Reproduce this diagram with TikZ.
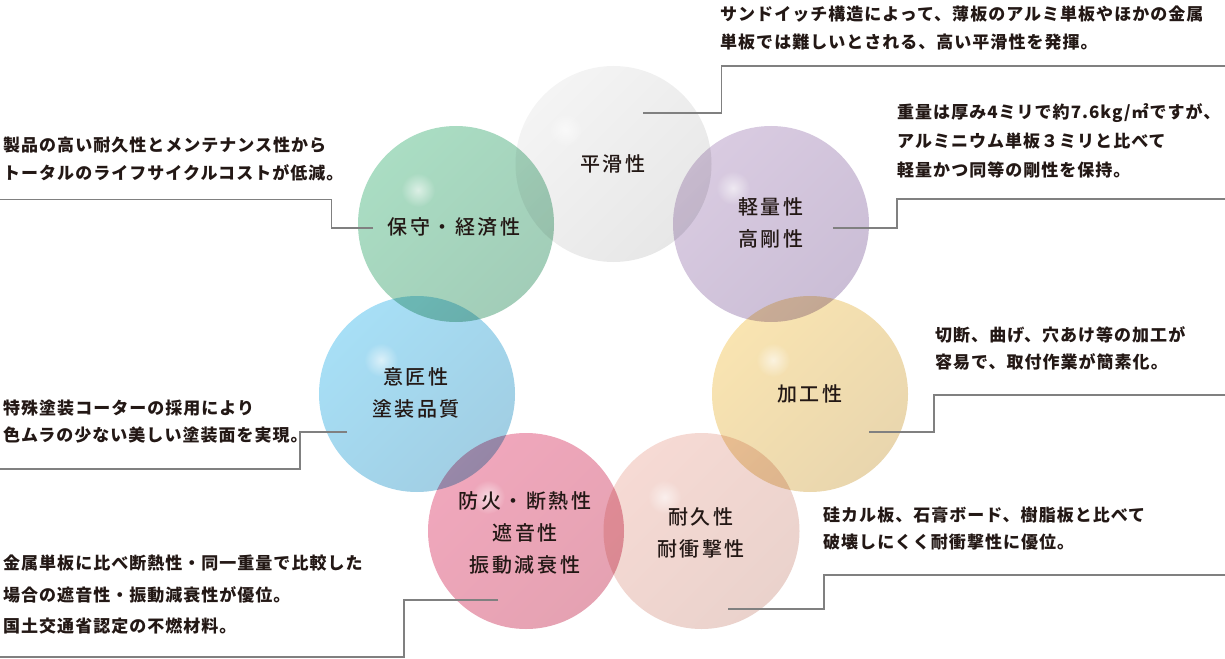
\documentclass[tikz,border=0pt]{standalone}
\usepackage{fontspec}
\setmainfont{Noto Sans CJK JP}
\newfontfamily\descfont[LetterSpace=6]{Noto Sans CJK JP}
\newfontfamily\labfont[LetterSpace=13]{Noto Sans CJK JP Medium}
\usetikzlibrary{fadings}
\tikzfading[name=softdot, inner color=transparent!0, outer color=transparent!100]
\definecolor{txt}{HTML}{231815}
\definecolor{leadgray}{HTML}{808080}
\definecolor{grayL}{HTML}{F4F4F4}\definecolor{grayD}{HTML}{E7E7E7}
\definecolor{greenL}{HTML}{AADDC3}\definecolor{greenD}{HTML}{A2CDB8}
\definecolor{purpL}{HTML}{D9CBE1}\definecolor{purpD}{HTML}{CBBED6}
\definecolor{blueL}{HTML}{A7DFF6}\definecolor{blueD}{HTML}{A1CEE3}
\definecolor{yellL}{HTML}{F9E4B1}\definecolor{yellD}{HTML}{E9D6AE}
\definecolor{pinkL}{HTML}{F0A7BC}\definecolor{pinkD}{HTML}{E5A2B2}
\definecolor{peachL}{HTML}{F6DAD4}\definecolor{peachD}{HTML}{EAD2CC}
\tikzset{
  bub/.style={circle, minimum size=196pt, inner sep=0pt, draw=none},
  lab/.style={font=\labfont\fontsize{20pt}{32pt}\selectfont, text=txt, align=center, inner sep=0pt},
  desc/.style={font=\descfont\bfseries\fontsize{17pt}{20pt}\selectfont, text=txt, anchor=base west, inner sep=0pt},
  lead/.style={draw=leadgray, line width=1.2pt},
  glow/.style={white, fill opacity=0.6, path fading=softdot},
}
\begin{document}
\begin{tikzpicture}[x=1pt,y=-1pt]
\useasboundingbox (0,0) rectangle (1225,658);

% bubbles
\begin{scope}[blend group=multiply]
  \node[bub, top color=grayL, bottom color=grayD, shading angle=45] (cA) at (613.5,164) {};
  \node[bub, top color=greenL, bottom color=greenD, shading angle=45] (cG) at (456,224) {};
  \node[bub, top color=purpL, bottom color=purpD, shading angle=45] (cB) at (771,224) {};
  \node[bub, top color=blueL, bottom color=blueD, shading angle=45] (cD) at (417,394) {};
  \node[bub, top color=yellL, bottom color=yellD, shading angle=45] (cE) at (810,394) {};
  \node[bub, top color=pinkL, bottom color=pinkD, shading angle=45] (cF) at (526,531) {};
  \node[bub, top color=peachL, bottom color=peachD, shading angle=45] (cH) at (701.5,531) {};
\end{scope}

% highlights
\fill[glow] ([shift={(-48pt,34pt)}]cA.center) circle (17pt);
\fill[glow] ([shift={(-38pt,34pt)}]cG.center) circle (17pt);
\fill[glow] ([shift={(-38pt,36pt)}]cB.center) circle (17pt);
\fill[glow] ([shift={(-36pt,34pt)}]cD.center) circle (17pt);
\fill[glow] ([shift={(-37pt,34pt)}]cE.center) circle (17pt);
\fill[glow] ([shift={(-38pt,34pt)}]cF.center) circle (17pt);
\fill[glow] ([shift={(-37pt,34pt)}]cH.center) circle (17pt);

% labels
\node[lab] (lA) at (613,164) {平滑性};
\node[lab] (lG) at (454,227) {保守・経済性};
\node[lab] (lB) at (771,223) {軽量性\\高剛性};
\node[lab] (lD) at (416,393) {意匠性\\塗装品質};
\node[lab] (lE) at (810,394) {加工性};
\node[lab] (lF) at (525,533) {防火・断熱性\\遮音性\\振動減衰性};
\node[lab] (lH) at (701,533) {耐久性\\耐衝撃性};

% connectors
\coordinate (sA) at (643,113);  \coordinate (kA) at (721.5,66);  \coordinate (eA) at (1225,66);
\coordinate (sB) at (833,228);  \coordinate (kB) at (897,199);   \coordinate (eB) at (1225,199);
\coordinate (sG) at (373,228);  \coordinate (kG) at (331.5,199.5); \coordinate (eG) at (0,199.5);
\coordinate (sD) at (347,432);  \coordinate (kD) at (300,469);   \coordinate (eD) at (0,469);
\coordinate (sE) at (869,432);  \coordinate (kE) at (934,395);   \coordinate (eE) at (1225,395);
\coordinate (sH) at (728,609);  \coordinate (kH) at (824,575);   \coordinate (eH) at (1225,575);
\coordinate (sF) at (498,600);  \coordinate (kF) at (404,657);   \coordinate (eF) at (0,657);
\draw[lead] (sA) -| (kA) -- (eA);
\draw[lead] (sB) -| (kB) -- (eB);
\draw[lead] (sG) -| (kG) -- (eG);
\draw[lead] (sD) -| (kD) -- (eD);
\draw[lead] (sE) -| (kE) -- (eE);
\draw[lead] (sH) -| (kH) -- (eH);
\draw[lead] (sF) -| (kF) -- (eF);

% descriptions
\node[desc] (tA1) at (720,21) {サンドイッチ構造によって、薄板のアルミ単板やほかの金属};
\node[desc] (tA2) at (720,49) {単板では難しいとされる、高い平滑性を発揮。};
\node[desc] (tB1) at (897,118) {重量は厚み4ミリで約7.6kg/㎡ですが、};
\node[desc] (tB2) at (897,147) {アルミニウム単板３ミリと比べて};
\node[desc] (tB3) at (897,176) {軽量かつ同等の剛性を保持。};
\node[desc] (tG1) at (3,151) {製品の高い耐久性とメンテナンス性から};
\node[desc] (tG2) at (3,179) {トータルのライフサイクルコストが低減。};
\node[desc] (tD1) at (3,414) {特殊塗装コーターの採用により};
\node[desc] (tD2) at (3,441) {色ムラの少ない美しい塗装面を実現。};
\node[desc] (tE1) at (935,341) {切断、曲げ、穴あけ等の加工が};
\node[desc] (tE2) at (935,368) {容易で、取付作業が簡素化。};
\node[desc] (tH1) at (823,521) {硅カル板、石膏ボード、樹脂板と比べて};
\node[desc] (tH2) at (823,548) {破壊しにくく耐衝撃性に優位。};
\node[desc] (tF1) at (3,569) {金属単板に比べ断熱性・同一重量で比較した};
\node[desc] (tF2) at (3,601) {場合の遮音性・振動減衰性が優位。};
\node[desc] (tF3) at (3,632) {国土交通省認定の不燃材料。};
\end{tikzpicture}
\end{document}
